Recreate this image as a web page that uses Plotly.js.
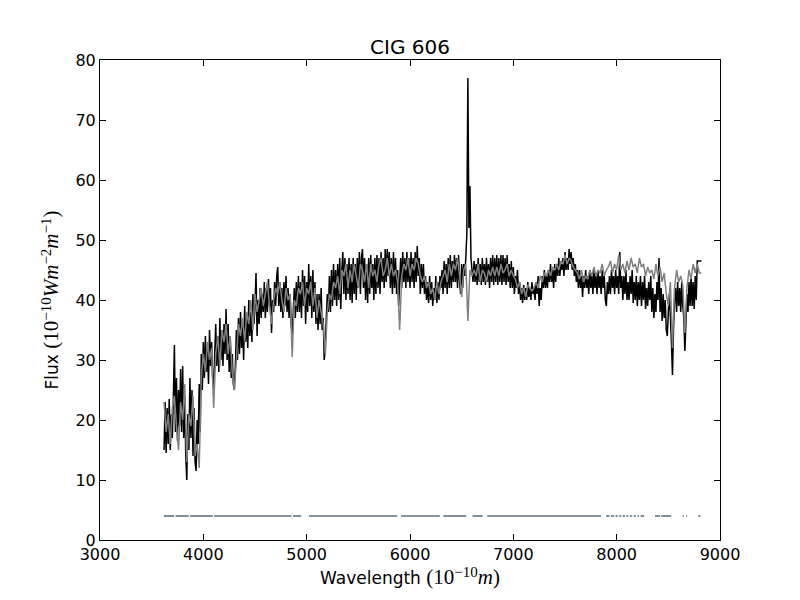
<!DOCTYPE html>
<html>
<head>
<meta charset="utf-8">
<script src="https://cdn.plot.ly/plotly-3.0.1.min.js"></script>
<style>
  html, body { margin: 0; padding: 0; background: #fff; }
  #chart { width: 800px; height: 600px; }
</style>
</head>
<body>
<div id="chart"></div>
<script>
// wavelength grids (Angstrom): start + step, like a spectrum header
const obsStart = 3620, obsStep = 10;
const modelStart = 3620, modelStep = 20;

// observed flux, one row = 100 A
const obsFlux = [
  15, 23, 14.5, 22, 16, 23.5, 15, 21, 17, 24,          // 3620
  32.5, 18, 27, 16.5, 25, 19, 28.5, 18, 29, 17,        // 3720
  24, 14, 10, 21, 15, 27, 17, 25, 14, 22,              // 3820
  13, 11.5, 20, 16, 26, 18, 31, 25, 33, 27,            // 3920
  34, 28, 32, 26, 35, 29, 33, 27, 25, 31,              // 4020
  36, 29, 34, 28, 37, 30, 35, 29, 36, 31,              // 4120
  38.5, 30, 36, 28, 34, 27, 31, 26, 25, 29,            // 4220
  35, 30, 37, 31, 38, 32, 36, 30, 39, 33,              // 4320
  37, 32, 40, 34, 38, 33, 41, 36, 39, 44.5,            // 4420
  34, 40, 36, 42, 37, 41, 38, 43, 37, 42,              // 4520
  38, 43.5, 39, 42, 34.5, 40, 38, 43, 39, 44,          // 4620
  45.5, 39, 43, 38, 42, 37, 43, 39, 44, 38,            // 4720
  42, 37, 41, 36, 34, 38, 42, 37, 43, 38,              // 4820
  44, 38, 43, 37, 45, 39, 44, 36, 43, 38,              // 4920
  46, 39, 44, 37, 45, 38, 43, 36, 41, 35,              // 5020
  41, 36, 42, 35, 37, 30, 32, 37, 41, 38,              // 5120
  44, 38, 45, 39, 46, 40, 45, 39, 46, 40,              // 5220
  47, 38.5, 45, 48, 41, 47, 40, 46, 41, 47,            // 5320
  40, 46, 39.5, 47, 41, 46, 40, 47, 42, 48,            // 5420
  41, 47, 48.5, 42, 47, 40, 46, 39.5, 47, 41,          // 5520
  47.5, 42, 46, 40, 47, 41, 47.5, 42, 47, 41,          // 5620
  48, 43, 47, 42, 48.5, 43, 48.5, 44, 48, 42,          // 5720
  47, 41, 48, 42, 47, 41, 45, 39, 43, 47,              // 5820
  42, 48, 43, 47, 42, 48, 43, 47, 42, 48,              // 5920
  43, 47, 42, 48, 43, 49, 44, 47, 41, 46,              // 6020
  42, 46, 41, 44, 40, 43, 39.5, 44, 40, 43,            // 6120
  39, 42, 40, 44, 39.5, 43, 40, 44, 42, 45,            // 6220
  41, 46.5, 42, 46, 41, 47, 42, 47.5, 42, 46.5,        // 6320
  43, 47.5, 43, 47, 42, 47.5, 43, 41, 46, 42,          // 6420
  46, 44, 47, 51, 77, 52, 59, 47, 45, 43,              // 6520
  46.5, 43, 46, 42.5, 47, 43, 46, 42.5, 47, 43,        // 6620
  46, 42.5, 47, 43, 46, 42, 47, 43, 47.5, 42.5,        // 6720
  47, 43, 47.5, 42.5, 47, 43, 47.5, 42.5, 47.5, 43,    // 6820
  47, 42.5, 47.5, 43, 46, 42, 46.5, 42, 45.5, 41,      // 6920
  44, 42, 45, 41, 43, 40, 42, 39.5, 42.5, 40,          // 7020
  42, 40, 43, 40.5, 42, 40, 43, 41, 42, 40,            // 7120
  43, 41, 44, 39, 42, 40, 44, 42, 45, 42,              // 7220
  44, 42, 45, 43, 46, 43, 45, 42, 46, 43,              // 7320
  46, 44, 47, 44, 46, 45, 47, 44, 48, 45,              // 7420
  47, 45, 48.5, 46, 48, 45, 47, 44, 46, 43,            // 7520
  45, 42, 45, 42, 44, 40.5, 44, 42, 45, 42,            // 7620
  44, 41, 45, 42, 44, 41, 45, 42, 44, 41,              // 7720
  45, 42, 44, 41, 45, 42, 44, 40, 39, 43,              // 7820
  41, 44, 41, 45, 42, 44, 41, 45, 42, 44,              // 7920
  41, 48, 42, 44, 40, 44, 41, 45, 40, 43,              // 8020
  40, 44, 41, 45, 39.5, 43, 40, 44, 39, 43,            // 8120
  40, 44, 39, 43, 40, 44, 38.5, 42, 39, 43,            // 8220
  40, 44, 38, 42, 37, 41, 38, 43, 40, 47,              // 8320
  38, 42, 36.5, 41, 37, 40, 35, 34, 38, 41,            // 8420
  37, 33, 27.5, 35, 40, 42, 38, 43, 39, 42,            // 8520
  38, 43, 39, 37, 31.5, 36, 41, 38, 43, 39,            // 8620
  44, 39, 43, 38.5, 44, 40, 46.5, 46.5, 46.5, 46.5,    // 8720
  46.5                                                 // 8820
];

// model fit, one row = 200 A
const modelFlux = [
  23, 18, 21, 16, 22, 24, 19, 15, 23, 20,              // 3620
  26, 13, 21, 19, 24, 14, 16, 12, 27, 31,              // 3820
  28, 33, 30, 32, 22, 31, 34, 29, 35, 33,              // 4020
  36, 31, 34, 28, 25, 30, 36, 34, 37, 33,              // 4220
  38, 36, 40, 35, 41, 38, 40, 42, 39, 41,              // 4420
  43, 39, 36, 40, 42, 41, 43, 40, 38, 42,              // 4620
  40, 41, 30.5, 40, 39, 42, 41, 43, 39, 42,            // 4820
  41, 43, 39, 42, 37, 40, 38, 36, 31, 38,              // 5020
  41, 40, 43, 42, 44, 41, 45, 44, 46, 42,              // 5220
  45, 43, 46, 44, 42, 46, 45, 43, 46, 42,              // 5420
  46, 44, 45, 43, 46, 47, 44, 45, 47, 44,              // 5620
  46, 44, 45, 43, 35, 44, 46, 45, 47, 44,              // 5820
  46, 45, 47, 46, 44, 43, 44, 42, 43, 41,              // 6020
  42, 40, 43, 41, 43, 44, 45, 43, 46, 44,              // 6220
  46, 45, 47, 44, 40.5, 45, 46, 36.5, 45, 44,          // 6420
  45, 44, 46, 43, 45, 44.5, 43, 45, 44, 45.5,          // 6620
  44, 45.5, 44, 46, 44.5, 45, 46, 44, 45, 44,          // 6820
  43.5, 42, 43, 41, 42, 40.5, 42.5, 42, 41.5, 42,      // 7020
  43, 42, 44, 43, 44.5, 44, 45, 44, 45.5, 45,          // 7220
  46, 45, 46.5, 46, 47.5, 46, 47, 46.5, 45.5, 45,      // 7420
  44.5, 43.5, 45, 43, 44, 43.5, 45, 44, 45.5, 44,      // 7620
  45, 44.5, 46, 44, 45, 45.5, 46.5, 44.5, 46, 45,      // 7820
  47.5, 45, 46, 44.5, 46.5, 45, 47, 45.5, 46, 44.5,    // 8020
  47, 45.5, 46, 44, 45.5, 44.5, 45, 43.5, 46, 44,      // 8220
  45.5, 43, 44.5, 41, 39, 43, 32, 42, 45, 43,          // 8420
  44, 42.5, 34.5, 42, 45, 43.5, 46, 44.5, 46, 44.5,    // 8620
  44.5                                                 // 8820
];

// good-pixel mask ranges (A), drawn at a fixed level
const maskLevel = 4;
const maskFrom = [3618, 3731, 3872, 4105, 4869, 5023, 5914, 6323, 6606, 6747,
                  7898, 7945, 7990, 8025, 8060, 8095, 8130, 8165, 8200, 8232,
                  8371, 8430, 8639, 8672, 8789];
const maskTo   = [3717, 3858, 4092, 4854, 4946, 5878, 6288, 6543, 6704, 7849,
                  7932, 7976, 8010, 8045, 8080, 8115, 8150, 8185, 8215, 8266,
                  8420, 8527, 8650, 8682, 8810];

const xTicks = [3000, 4000, 5000, 6000, 7000, 8000, 9000];
const yTicks = [0, 10, 20, 30, 40, 50, 60, 70, 80];

const obsWave = obsFlux.map((_, i) => obsStart + i * obsStep);
const modelWave = modelFlux.map((_, i) => modelStart + i * modelStep);

const maskX = [], maskY = [];
maskFrom.forEach((a, i) => {
  maskX.push(a, maskTo[i], null);
  maskY.push(maskLevel, maskLevel, null);
});

const traces = [
  {
    x: obsWave, y: obsFlux, type: "scatter", mode: "lines",
    line: { color: "#000000", width: 1.5, simplify: false },
    hoverinfo: "skip"
  },
  {
    x: modelWave, y: modelFlux, type: "scatter", mode: "lines",
    line: { color: "#808080", width: 1.5, simplify: false },
    hoverinfo: "skip"
  },
  {
    x: maskX, y: maskY, type: "scatter", mode: "lines",
    line: { color: "#607080", width: 1.6 },
    connectgaps: false, hoverinfo: "skip"
  }
];

// mathtext-like pieces of the axis titles
const serif = "font-family:'Liberation Serif',serif;font-size:21px";
const ital = "font-family:'Liberation Serif',serif;font-style:italic;font-size:21px";
const sup = (s) => "<sup><span style=\"" + serif + ";font-size:15px\">" + s + "</span></sup>";
const yTitle = "Flux <span style=\"" + serif + "\">(10</span>" + sup("−10") +
  "<span style=\"" + ital + "\">Wm</span>" + sup("−2") +
  "<span style=\"" + ital + "\">m</span>" + sup("−1") +
  "<span style=\"" + serif + "\">)</span>";
const xTitle = "Wavelength <span style=\"" + serif + "\">(10</span>" + sup("−10") +
  "<span style=\"" + ital + "\">m</span><span style=\"" + serif + "\">)</span>";

const axisBase = {
  showline: true, linecolor: "#000", linewidth: 1, mirror: "ticks",
  ticks: "inside", ticklen: 6, tickwidth: 1, tickcolor: "#000",
  showgrid: false, zeroline: false, automargin: false,
  tickfont: { family: "DejaVu Sans", size: 16, color: "#000" }
};

const layout = {
  width: 800, height: 600,
  margin: { l: 100, r: 80, t: 60, b: 60, pad: 0 },
  paper_bgcolor: "#fff", plot_bgcolor: "#fff",
  showlegend: false,
  title: {
    text: "CIG 606",
    font: { family: "DejaVu Sans", size: 20, color: "#000" },
    x: 0.5, xref: "paper", y: 1, yref: "paper", yanchor: "bottom",
    pad: { b: 6 }
  },
  xaxis: Object.assign({}, axisBase, {
    range: [3000, 9000], tickvals: xTicks, ticktext: xTicks.map(String),
    title: {
      text: xTitle,
      font: { family: "DejaVu Sans", size: 17, color: "#000" },
      standoff: 6
    }
  }),
  yaxis: Object.assign({}, axisBase, {
    range: [0, 80], tickvals: yTicks, ticktext: yTicks.map(String),
    title: {
      text: yTitle,
      font: { family: "DejaVu Sans", size: 17, color: "#000" },
      standoff: 12
    }
  })
};

Plotly.newPlot("chart", traces, layout, { staticPlot: true, displayModeBar: false });
</script>
</body>
</html>
